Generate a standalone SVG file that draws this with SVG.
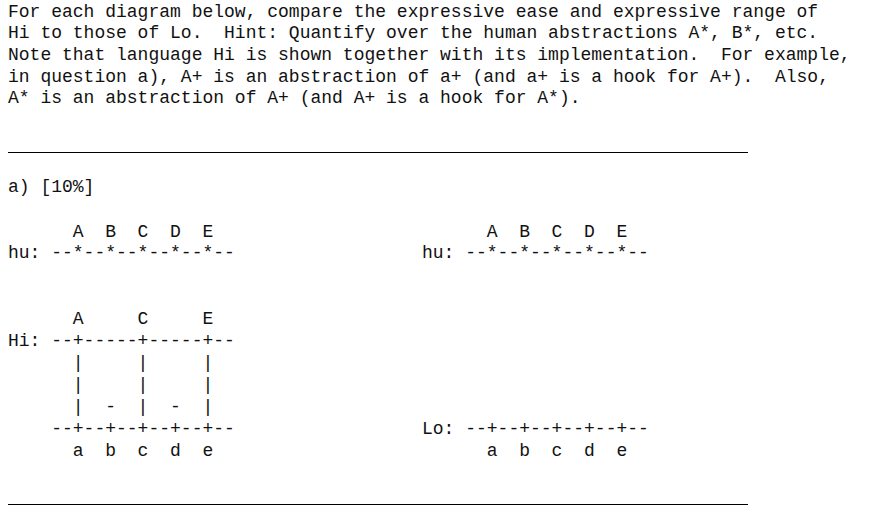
<svg xmlns="http://www.w3.org/2000/svg" width="890" height="513" viewBox="0 0 890 513" xml:space="preserve">
<style>
  text { font-family: "Liberation Mono", "Courier New", monospace; font-size: 18px; fill: #111; white-space: pre; }
  .rule { stroke: #000; stroke-width: 1.2; }
</style>
<rect x="0" y="0" width="890" height="513" fill="#fff"/>
<g id="header">
  <text x="8" y="16.7">For each diagram below, compare the expressive ease and expressive range of</text>
  <text x="8" y="38.3">Hi to those of Lo.  Hint: Quantify over the human abstractions A*, B*, etc.</text>
  <text x="8" y="60">Note that language Hi is shown together with its implementation.  For example,</text>
  <text x="8" y="81.7">in question a), A+ is an abstraction of a+ (and a+ is a hook for A+).  Also,</text>
  <text x="8" y="103.3">A* is an abstraction of A+ (and A+ is a hook for A*).</text>
</g>
<g id="rules">
  <line class="rule" x1="8" y1="152.5" x2="748" y2="152.5"/>
  <line class="rule" x1="8" y1="504.5" x2="748" y2="504.5"/>
</g>
<g id="question-label">
  <text x="8" y="191.5">a) [10%]</text>
</g>
<g id="left-diagram">
  <g id="left-hu">
    <text x="8" y="236.5">      A  B  C  D  E</text>
    <text x="8" y="258">hu: --*--*--*--*--*--</text>
  </g>
  <g id="left-Hi">
    <text x="8" y="324">      A     C     E</text>
    <text x="8" y="345.5">Hi: --+-----+-----+--</text>
  </g>
  <g id="left-connectors">
    <text x="8" y="367.5">      |     |     |</text>
    <text x="8" y="389.5">      |     |     |</text>
    <text x="8" y="411.5">      |  -  |  -  |</text>
  </g>
  <g id="left-Lo">
    <text x="8" y="433.5">    --+--+--+--+--+--</text>
    <text x="8" y="455.5">      a  b  c  d  e</text>
  </g>
</g>
<g id="right-diagram">
  <g id="right-hu">
    <text x="422" y="236.5">      A  B  C  D  E</text>
    <text x="422" y="258">hu: --*--*--*--*--*--</text>
  </g>
  <g id="right-Lo">
    <text x="422" y="433.5">Lo: --+--+--+--+--+--</text>
    <text x="422" y="455.5">      a  b  c  d  e</text>
  </g>
</g>
</svg>
